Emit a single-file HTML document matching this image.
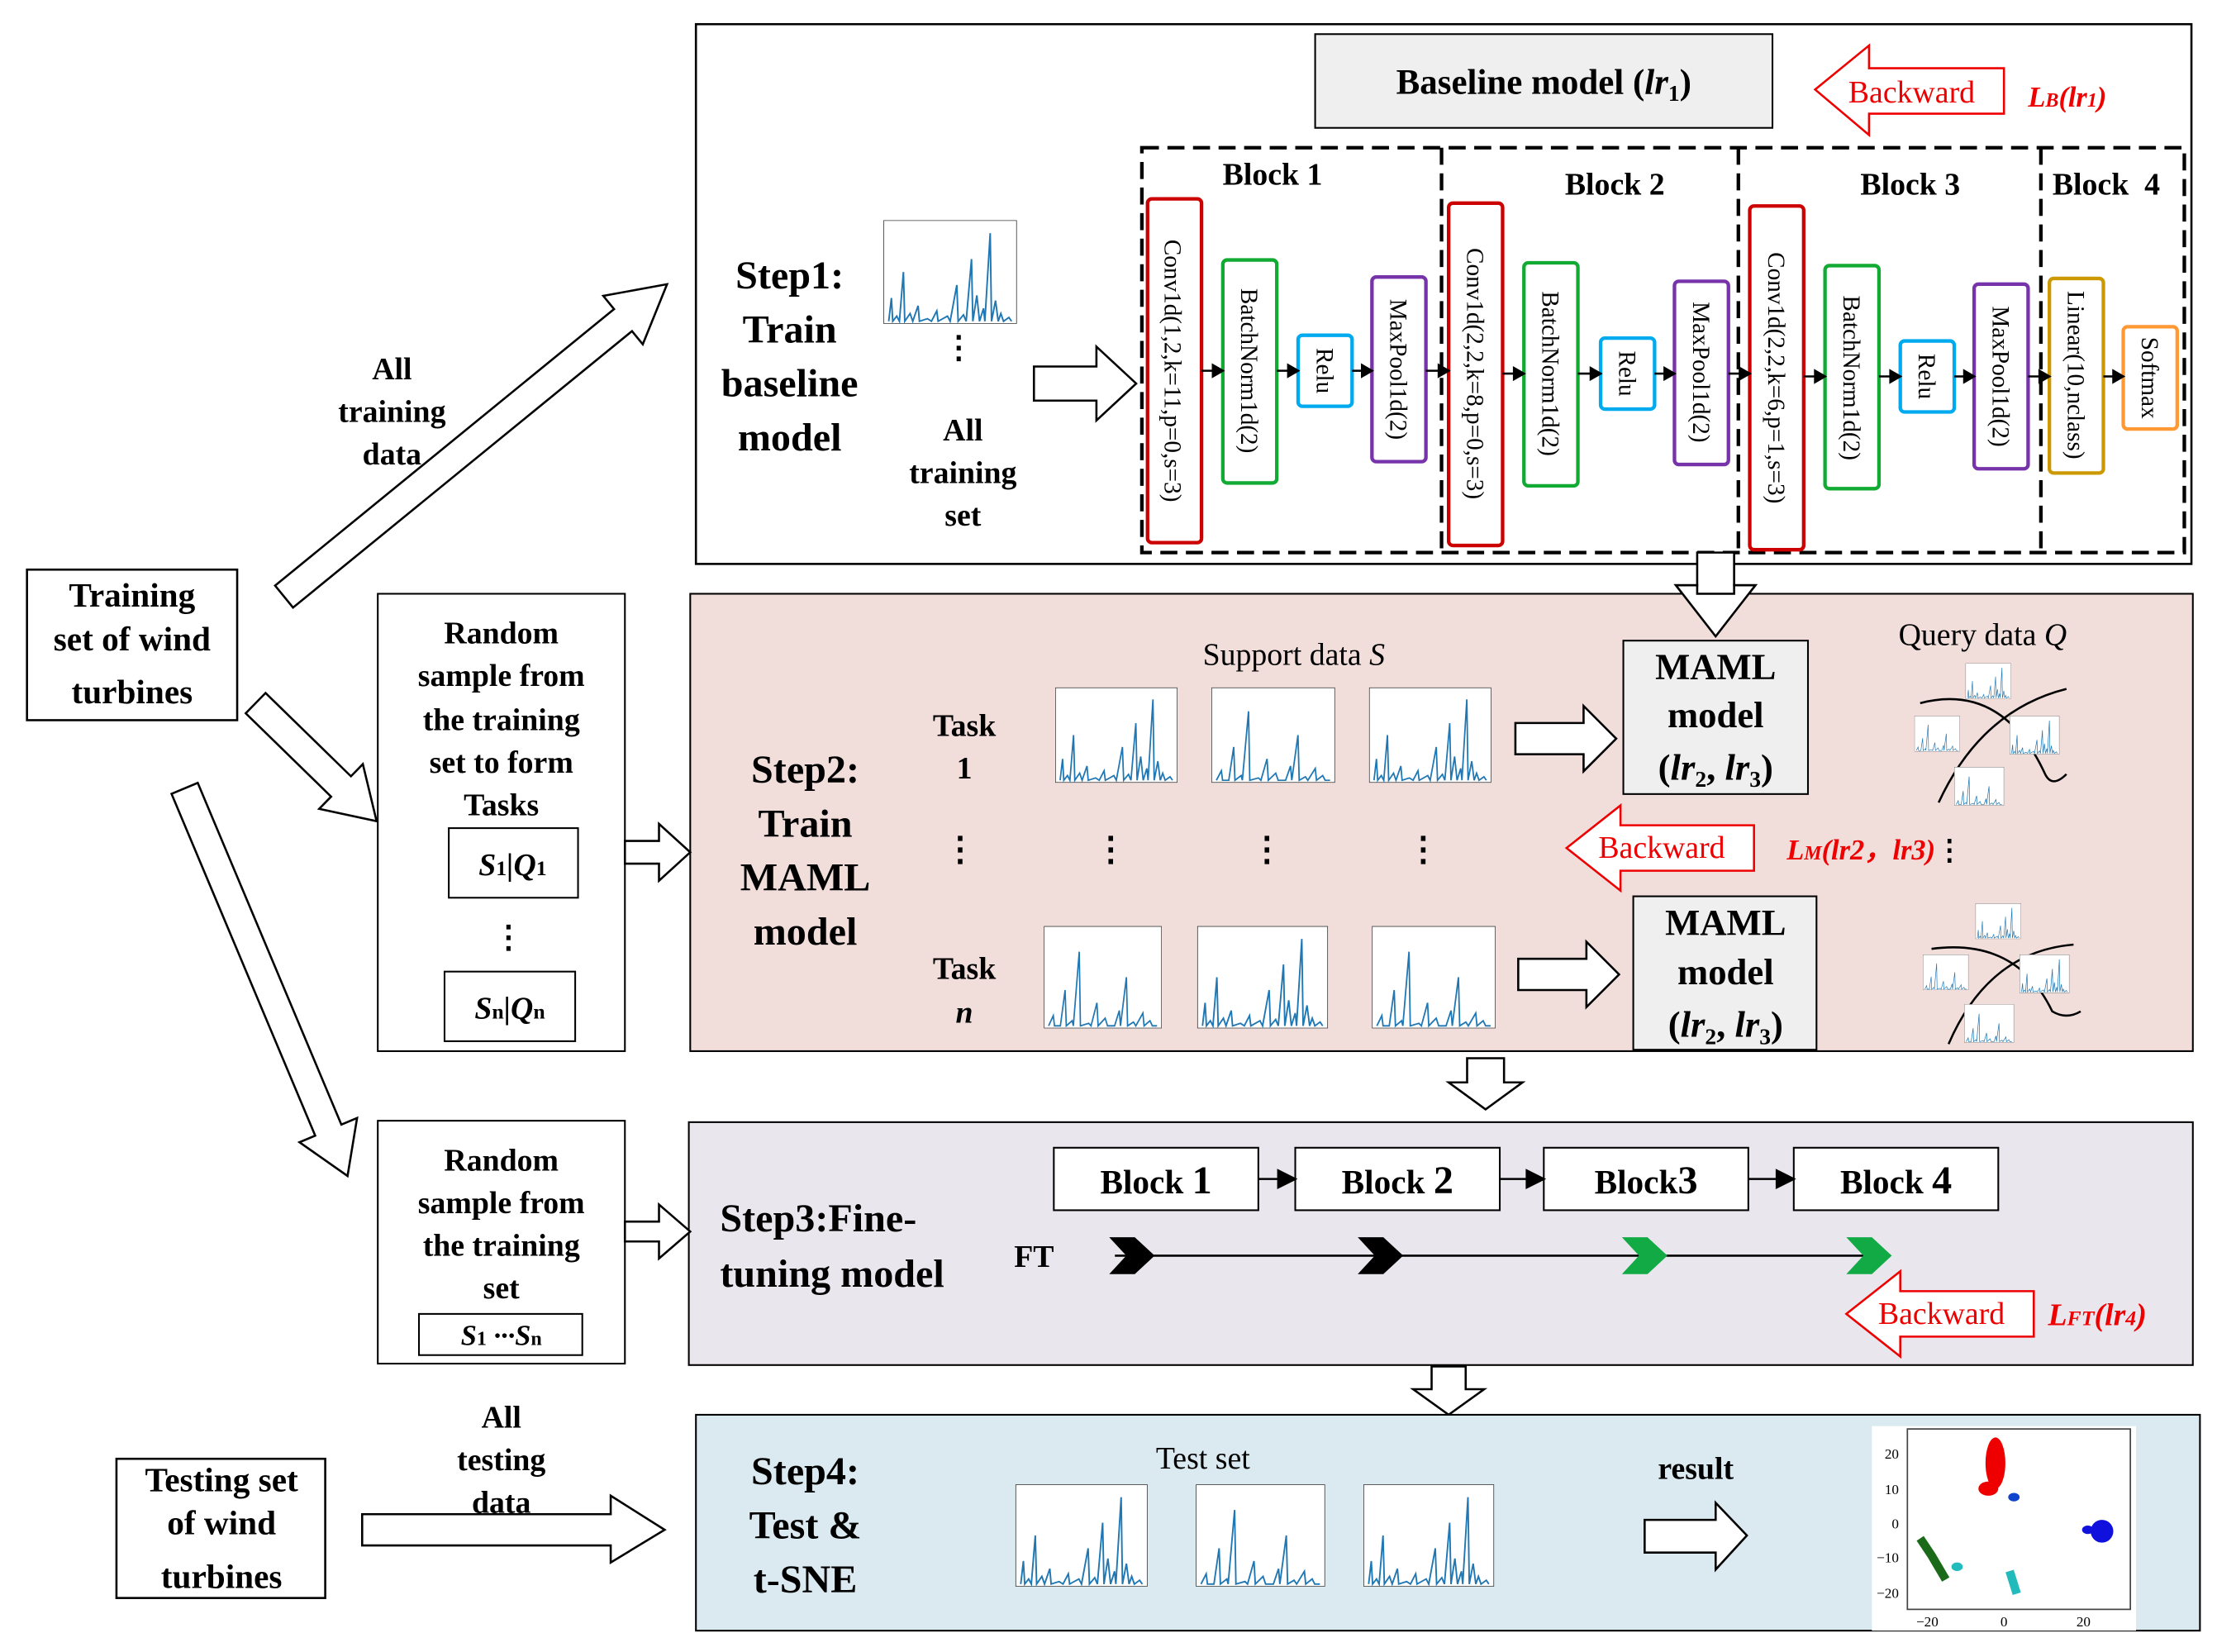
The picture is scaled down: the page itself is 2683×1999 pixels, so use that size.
<!DOCTYPE html>
<html><head><meta charset="utf-8">
<style>
html,body{margin:0;padding:0;background:#fff;}
svg{display:block;}
text{font-family:"Liberation Serif",serif;}
.b{font-weight:bold;}
</style></head>
<body>
<svg width="2683" height="1999" viewBox="0 0 1561 1163" xmlns="http://www.w3.org/2000/svg">
<defs>
<symbol id="ch" viewBox="0 0 100 80" preserveAspectRatio="none">
<rect x="0" y="0" width="100" height="80" fill="#fff" stroke="#333" stroke-width="1"/>
<polyline fill="none" stroke="#1f77b4" stroke-width="1.2" points="4,78 6,60 7,78 10,74 12,78 15,40 16,78 20,72 22,78 26,66 27,78 33,76 36,78 40,70 41,78 48,74 50,78 55,50 56,78 60,73 62,78 66,30 67,78 70,58 72,78 75,68 76,78 80,10 81,78 84,62 86,78 88,72 90,78 94,75 96,78"/>
</symbol>
<symbol id="ch2" viewBox="0 0 100 80" preserveAspectRatio="none">
<rect x="0" y="0" width="100" height="80" fill="#fff" stroke="#333" stroke-width="1"/>
<polyline fill="none" stroke="#1f77b4" stroke-width="1.2" points="4,78 8,70 9,78 14,78 18,50 19,78 24,74 25,78 30,20 31,78 38,76 40,78 45,60 46,78 52,72 54,78 60,78 64,66 65,78 70,40 71,78 76,75 78,78 84,68 85,78 90,74 92,78 96,78"/>
</symbol>
</defs>

<!-- ===== Step1 ===== -->
<rect x="490" y="17" width="1053" height="380" fill="#fff" stroke="#000" stroke-width="1.5"/>
<rect x="926" y="24" width="322" height="66" fill="#efefef" stroke="#000" stroke-width="1.2"/>
<text x="1087" y="66" font-size="25" text-anchor="middle" class="b">Baseline model (<tspan font-style="italic">lr</tspan><tspan font-size="16" dy="5">1</tspan><tspan dy="-5">)</tspan></text>
<polygon points="1278,63 1316,32 1316,48 1411,48 1411,80 1316,80 1316,95" fill="#fff" stroke="#e00" stroke-width="1.5"/>
<text x="1346" y="72" font-size="22" fill="#e00" text-anchor="middle" font-family="Liberation Sans">Backward</text>
<text x="1428" y="75" font-size="20" fill="#e00" class="b" font-style="italic">L<tspan font-size="14">B</tspan>(lr<tspan font-size="14">1</tspan>)</text>

<rect x="804" y="104" width="734" height="285" fill="none" stroke="#000" stroke-width="2.5" stroke-dasharray="12,6"/>
<line x1="1015" y1="104" x2="1015" y2="389" stroke="#000" stroke-width="2.5" stroke-dasharray="12,6"/>
<line x1="1224" y1="104" x2="1224" y2="389" stroke="#000" stroke-width="2.5" stroke-dasharray="12,6"/>
<line x1="1437" y1="104" x2="1437" y2="389" stroke="#000" stroke-width="2.5" stroke-dasharray="12,6"/>
<text x="896" y="130" font-size="22" text-anchor="middle" class="b">Block 1</text>
<text x="1137" y="137" font-size="22" text-anchor="middle" class="b">Block 2</text>
<text x="1345" y="137" font-size="22" text-anchor="middle" class="b">Block 3</text>
<text x="1483" y="137" font-size="22" text-anchor="middle" class="b">Block &#160;4</text>

<g fill="#fff" stroke-width="2.5">
<rect x="808" y="140" width="38" height="242" rx="3" stroke="#c00"/>
<rect x="861" y="183" width="38" height="157" rx="3" stroke="#1a3"/>
<rect x="914" y="236" width="38" height="50" rx="3" stroke="#0ae"/>
<rect x="966" y="195" width="38" height="130" rx="3" stroke="#73a"/>
<rect x="1020" y="143" width="38" height="241" rx="3" stroke="#c00"/>
<rect x="1073" y="185" width="38" height="157" rx="3" stroke="#1a3"/>
<rect x="1127" y="238" width="38" height="50" rx="3" stroke="#0ae"/>
<rect x="1179" y="198" width="38" height="129" rx="3" stroke="#73a"/>
<rect x="1232" y="145" width="38" height="242" rx="3" stroke="#c00"/>
<rect x="1285" y="187" width="38" height="157" rx="3" stroke="#1a3"/>
<rect x="1338" y="240" width="38" height="50" rx="3" stroke="#0ae"/>
<rect x="1390" y="200" width="38" height="130" rx="3" stroke="#73a"/>
<rect x="1443" y="196" width="38" height="137" rx="3" stroke="#c90"/>
<rect x="1495" y="230" width="38" height="72" rx="3" stroke="#f93"/>
</g>
<g font-size="17">
<text transform="translate(820,261) rotate(90)" text-anchor="middle">Conv1d(1,2,k=11,p=0,s=3)</text>
<text transform="translate(874,261) rotate(90)" text-anchor="middle">BatchNorm1d(2)</text>
<text transform="translate(927,261) rotate(90)" text-anchor="middle">Relu</text>
<text transform="translate(979,260) rotate(90)" text-anchor="middle">MaxPool1d(2)</text>
<text transform="translate(1033,263) rotate(90)" text-anchor="middle">Conv1d(2,2,k=8,p=0,s=3)</text>
<text transform="translate(1086,263) rotate(90)" text-anchor="middle">BatchNorm1d(2)</text>
<text transform="translate(1140,263) rotate(90)" text-anchor="middle">Relu</text>
<text transform="translate(1192,262) rotate(90)" text-anchor="middle">MaxPool1d(2)</text>
<text transform="translate(1245,266) rotate(90)" text-anchor="middle">Conv1d(2,2,k=6,p=1,s=3)</text>
<text transform="translate(1298,266) rotate(90)" text-anchor="middle">BatchNorm1d(2)</text>
<text transform="translate(1351,265) rotate(90)" text-anchor="middle">Relu</text>
<text transform="translate(1403,265) rotate(90)" text-anchor="middle">MaxPool1d(2)</text>
<text transform="translate(1456,264) rotate(90)" text-anchor="middle">Linear(10,nclass)</text>
<text transform="translate(1508,266) rotate(90)" text-anchor="middle">Softmax</text>
</g>
<g stroke="#000" stroke-width="1.5" fill="#000">
<line x1="846" y1="261" x2="856" y2="261"/><polygon points="861,261 854,257 854,265"/>
<line x1="899" y1="261" x2="909" y2="261"/><polygon points="914,261 907,257 907,265"/>
<line x1="952" y1="261" x2="961" y2="261"/><polygon points="966,261 959,257 959,265"/>
<line x1="1004" y1="261" x2="1015" y2="261"/><polygon points="1020,261 1013,257 1013,265"/>
<line x1="1058" y1="263" x2="1068" y2="263"/><polygon points="1073,263 1066,259 1066,267"/>
<line x1="1111" y1="263" x2="1122" y2="263"/><polygon points="1127,263 1120,259 1120,267"/>
<line x1="1165" y1="263" x2="1174" y2="263"/><polygon points="1179,263 1172,259 1172,267"/>
<line x1="1217" y1="263" x2="1227" y2="263"/><polygon points="1232,263 1225,259 1225,267"/>
<line x1="1270" y1="265" x2="1280" y2="265"/><polygon points="1285,265 1278,261 1278,269"/>
<line x1="1323" y1="265" x2="1333" y2="265"/><polygon points="1338,265 1331,261 1331,269"/>
<line x1="1376" y1="265" x2="1385" y2="265"/><polygon points="1390,265 1383,261 1383,269"/>
<line x1="1428" y1="265" x2="1438" y2="265"/><polygon points="1443,265 1436,261 1436,269"/>
<line x1="1481" y1="265" x2="1490" y2="265"/><polygon points="1495,265 1488,261 1488,269"/>
</g>

<g font-size="28" class="b" text-anchor="middle">
<text x="556" y="203">Step1:</text>
<text x="556" y="241">Train</text>
<text x="556" y="279">baseline</text>
<text x="556" y="317">model</text>
</g>
<use href="#ch" x="622" y="155" width="94" height="73"/>
<text x="675" y="252" font-size="22" text-anchor="middle" class="b">&#8942;</text>
<g font-size="22" class="b" text-anchor="middle">
<text x="678" y="310">All</text><text x="678" y="340">training</text><text x="678" y="370">set</text>
</g>
<polygon points="728,258 772,258 772,244 800,270 772,296 772,282 728,282" fill="#fff" stroke="#000" stroke-width="1.5"/>

<!-- down arrow step1->maml -->
<polygon points="1195,389 1221,389 1221,412 1236,412 1208,448 1180,412 1195,412" fill="#fff" stroke="#000" stroke-width="1.5"/>

<!-- ===== Step2 ===== -->
<rect x="486" y="418" width="1058" height="322" fill="#f1dedb" stroke="#000" stroke-width="1.2"/>
<polygon points="1195,418 1221,418 1221,412 1236,412 1208,448 1180,412 1195,412" fill="#fff" stroke="#000" stroke-width="1.5"/>
<g font-size="28" class="b" text-anchor="middle">
<text x="567" y="551">Step2:</text><text x="567" y="589">Train</text><text x="567" y="627">MAML</text><text x="567" y="665">model</text>
</g>
<g font-size="22" class="b" text-anchor="middle">
<text x="679" y="518">Task</text><text x="679" y="548">1</text>
<text x="679" y="689">Task</text><text x="679" y="720" font-style="italic">n</text>
</g>
<text x="911" y="468" font-size="22" text-anchor="middle">Support data <tspan font-style="italic">S</tspan></text>
<use href="#ch" x="743" y="484" width="86" height="67"/>
<use href="#ch2" x="853" y="484" width="87" height="67"/>
<use href="#ch" x="964" y="484" width="86" height="67"/>
<use href="#ch2" x="735" y="652" width="83" height="72"/>
<use href="#ch" x="843" y="652" width="92" height="72"/>
<use href="#ch2" x="966" y="652" width="87" height="72"/>
<g font-size="24" class="b" text-anchor="middle">
<text x="676" y="606">&#8942;</text><text x="782" y="606">&#8942;</text><text x="892" y="606">&#8942;</text><text x="1002" y="606">&#8942;</text>
</g>
<polygon points="1067,509 1115,509 1115,497 1138,520 1115,543 1115,531 1067,531" fill="#fff" stroke="#000" stroke-width="1.5"/>
<polygon points="1069,675 1117,675 1117,663 1140,686 1117,709 1117,697 1069,697" fill="#fff" stroke="#000" stroke-width="1.5"/>
<rect x="1143" y="451" width="130" height="108" fill="#efefef" stroke="#000" stroke-width="1.2"/>
<rect x="1150" y="631" width="129" height="108" fill="#efefef" stroke="#000" stroke-width="1.2"/>
<g font-size="26" class="b" text-anchor="middle">
<text x="1208" y="478">MAML</text><text x="1208" y="512">model</text>
<text x="1208" y="549">(<tspan font-style="italic">lr</tspan><tspan font-size="16" dy="5">2</tspan><tspan dy="-5">, </tspan><tspan font-style="italic">lr</tspan><tspan font-size="16" dy="5">3</tspan><tspan dy="-5">)</tspan></text>
<text x="1215" y="658">MAML</text><text x="1215" y="693">model</text>
<text x="1215" y="730">(<tspan font-style="italic">lr</tspan><tspan font-size="16" dy="5">2</tspan><tspan dy="-5">, </tspan><tspan font-style="italic">lr</tspan><tspan font-size="16" dy="5">3</tspan><tspan dy="-5">)</tspan></text>
</g>
<polygon points="1103,597 1141,567 1141,581 1235,581 1235,613 1141,613 1141,627" fill="#fff" stroke="#e00" stroke-width="1.5"/>
<text x="1170" y="604" font-size="22" fill="#e00" text-anchor="middle" font-family="Liberation Sans">Backward</text>
<text x="1258" y="605" font-size="20" fill="#e00" class="b" font-style="italic">L<tspan font-size="14">M</tspan>(lr2，lr3)<tspan fill="#000" font-style="normal">&#8942;</tspan></text>
<text x="1396" y="454" font-size="22" text-anchor="middle">Query data <tspan font-style="italic">Q</tspan></text>
<g fill="none" stroke="#000" stroke-width="1.5">
<path d="M1352,495 Q1410,480 1440,545 Q1445,555 1455,545"/>
<path d="M1365,565 Q1395,500 1455,485"/>
<path d="M1360,668 Q1420,660 1445,712 Q1455,718 1465,712"/>
<path d="M1372,735 Q1400,670 1460,665"/>
</g>
<use href="#ch" x="1384" y="467" width="32" height="25"/>
<use href="#ch2" x="1348" y="504" width="32" height="25"/>
<use href="#ch" x="1415" y="504" width="35" height="27"/>
<use href="#ch2" x="1376" y="540" width="35" height="27"/>
<use href="#ch" x="1391" y="636" width="32" height="25"/>
<use href="#ch2" x="1354" y="672" width="32" height="25"/>
<use href="#ch" x="1422" y="672" width="35" height="27"/>
<use href="#ch2" x="1383" y="707" width="35" height="27"/>

<!-- down arrows -->
<polygon points="1033,745 1059,745 1059,762 1072,762 1046,781 1020,762 1033,762" fill="#fff" stroke="#000" stroke-width="1.5"/>
<polygon points="1008,962 1032,962 1032,978 1045,978 1020,996 995,978 1008,978" fill="#fff" stroke="#000" stroke-width="1.5"/>

<!-- ===== Step3 ===== -->
<rect x="485" y="790" width="1059" height="171" fill="#eae6ee" stroke="#000" stroke-width="1.2"/>
<g fill="#fff" stroke="#000" stroke-width="1.2">
<rect x="742" y="808" width="144" height="44"/><rect x="912" y="808" width="144" height="44"/>
<rect x="1087" y="808" width="144" height="44"/><rect x="1263" y="808" width="144" height="44"/>
</g>
<g font-size="24" class="b" text-anchor="middle" font-family="Liberation Sans">
<text x="814" y="840" font-family="Liberation Sans">Block <tspan font-size="28">1</tspan></text>
<text x="984" y="840" font-family="Liberation Sans">Block <tspan font-size="28">2</tspan></text>
<text x="1159" y="840" font-family="Liberation Sans">Block<tspan font-size="28">3</tspan></text>
<text x="1335" y="840" font-family="Liberation Sans">Block <tspan font-size="28">4</tspan></text>
</g>
<g stroke="#000" stroke-width="1.5" fill="#000">
<line x1="886" y1="830" x2="902" y2="830"/><polygon points="912,830 900,824 900,836"/>
<line x1="1056" y1="830" x2="1077" y2="830"/><polygon points="1087,830 1075,824 1075,836"/>
<line x1="1231" y1="830" x2="1253" y2="830"/><polygon points="1263,830 1251,824 1251,836"/>
</g>
<g font-size="28" class="b">
<text x="507" y="867">Step3:Fine-</text><text x="507" y="906">tuning model</text>
</g>
<text x="714" y="892" font-size="22" class="b">FT</text>
<line x1="785" y1="884" x2="1320" y2="884" stroke="#000" stroke-width="1.5"/>
<g>
<polygon points="781,871 799,871 813,884 799,897 781,897 793,884" fill="#000"/>
<polygon points="956,871 974,871 988,884 974,897 956,897 968,884" fill="#000"/>
<polygon points="1142,871 1160,871 1174,884 1160,897 1142,897 1154,884" fill="#1a4"/>
<polygon points="1300,871 1318,871 1332,884 1318,897 1300,897 1312,884" fill="#1a4"/>
</g>
<polygon points="1300,925 1338,895 1338,909 1432,909 1432,941 1338,941 1338,955" fill="#fff" stroke="#e00" stroke-width="1.5"/>
<text x="1367" y="932" font-size="22" fill="#e00" text-anchor="middle" font-family="Liberation Sans">Backward</text>
<text x="1442" y="933" font-size="22" fill="#e00" class="b" font-style="italic">L<tspan font-size="15">FT</tspan>(lr<tspan font-size="15">4</tspan>)</text>

<!-- ===== Step4 ===== -->
<rect x="490" y="996" width="1059" height="152" fill="#daeaf0" stroke="#000" stroke-width="1.2"/>
<g font-size="28" class="b" text-anchor="middle">
<text x="567" y="1045">Step4:</text><text x="567" y="1083">Test &amp;</text><text x="567" y="1121">t-SNE</text>
</g>
<text x="847" y="1034" font-size="22" text-anchor="middle">Test set</text>
<use href="#ch" x="715" y="1045" width="93" height="72"/>
<use href="#ch2" x="842" y="1045" width="91" height="72"/>
<use href="#ch" x="960" y="1045" width="92" height="72"/>
<text x="1194" y="1041" font-size="22" class="b" text-anchor="middle">result</text>
<polygon points="1158,1070 1208,1070 1208,1058 1230,1081 1208,1105 1208,1093 1158,1093" fill="#fff" stroke="#000" stroke-width="1.5"/>
<rect x="1318" y="1004" width="186" height="144" fill="#fff"/>
<rect x="1343" y="1006" width="157" height="127" fill="#fff" stroke="#444" stroke-width="1"/>
<g font-size="10" font-family="Liberation Sans" text-anchor="end">
<text x="1337" y="1027" font-family="Liberation Sans">20</text><text x="1337" y="1052" font-family="Liberation Sans">10</text><text x="1337" y="1076" font-family="Liberation Sans">0</text><text x="1337" y="1100" font-family="Liberation Sans">−10</text><text x="1337" y="1125" font-family="Liberation Sans">−20</text>
</g>
<g font-size="10" font-family="Liberation Sans" text-anchor="middle">
<text x="1357" y="1145" font-family="Liberation Sans">−20</text><text x="1411" y="1145" font-family="Liberation Sans">0</text><text x="1467" y="1145" font-family="Liberation Sans">20</text>
</g>
<g>
<ellipse cx="1405" cy="1030" rx="7" ry="18" fill="#e00"/>
<ellipse cx="1400" cy="1048" rx="7" ry="5" fill="#e00"/>
<ellipse cx="1418" cy="1054" rx="4" ry="3" fill="#14c"/>
<ellipse cx="1480" cy="1078" rx="8" ry="8" fill="#11d"/>
<ellipse cx="1470" cy="1077" rx="4" ry="3" fill="#11d"/>
<path d="M1352,1083 L1360,1095 L1370,1112" stroke="#1a6a1a" stroke-width="6" fill="none"/>
<ellipse cx="1378" cy="1103" rx="4" ry="3" fill="#2bb"/>
<path d="M1415,1106 L1420,1122" stroke="#2bb" stroke-width="6" fill="none"/>
</g>

<!-- ===== Left side ===== -->
<rect x="19" y="401" width="148" height="106" fill="#fff" stroke="#000" stroke-width="1.5"/>
<g font-size="24" class="b" text-anchor="middle">
<text x="93" y="427">Training</text><text x="93" y="458">set of wind</text><text x="93" y="495">turbines</text>
</g>
<g fill="#fff" stroke="#000" stroke-width="1.5">
<polygon transform="translate(200,420) rotate(-39.2)" points="0,-10 308,-10 308,-22 348,0 308,22 308,10 0,10"/>
<polygon transform="translate(180,495) rotate(44.3)" points="0,-10 84,-10 84,-22 119,0 84,22 84,10 0,10"/>
<polygon transform="translate(130,555) rotate(67.2)" points="0,-10 261,-10 261,-22 296,0 261,22 261,10 0,10"/>
</g>
<g font-size="22" class="b" text-anchor="middle">
<text x="276" y="267">All</text><text x="276" y="297">training</text><text x="276" y="327">data</text>
</g>

<rect x="266" y="418" width="174" height="322" fill="#fff" stroke="#000" stroke-width="1.2"/>
<g font-size="22" class="b" text-anchor="middle">
<text x="353" y="453">Random</text><text x="353" y="483">sample from</text><text x="353" y="514">the training</text><text x="353" y="544">set to form</text><text x="353" y="574">Tasks</text>
</g>
<rect x="316" y="583" width="91" height="49" fill="#fff" stroke="#000" stroke-width="1.2"/>
<text x="361" y="616" font-size="22" class="b" font-style="italic" text-anchor="middle">S<tspan font-size="15" font-style="normal">1</tspan>|Q<tspan font-size="15" font-style="normal">1</tspan></text>
<text x="358" y="667" font-size="22" class="b" text-anchor="middle">&#8942;</text>
<rect x="313" y="684" width="92" height="49" fill="#fff" stroke="#000" stroke-width="1.2"/>
<text x="359" y="717" font-size="22" class="b" font-style="italic" text-anchor="middle">S<tspan font-size="15" font-style="normal">n</tspan>|Q<tspan font-size="15" font-style="normal">n</tspan></text>
<polygon points="440,592 464,592 464,580 486,600 464,620 464,608 440,608" fill="#fff" stroke="#000" stroke-width="1.5"/>

<rect x="266" y="789" width="174" height="171" fill="#fff" stroke="#000" stroke-width="1.2"/>
<g font-size="22" class="b" text-anchor="middle">
<text x="353" y="824">Random</text><text x="353" y="854">sample from</text><text x="353" y="884">the training</text><text x="353" y="914">set</text>
</g>
<rect x="295" y="925" width="115" height="29" fill="#fff" stroke="#000" stroke-width="1.2"/>
<text x="353" y="947" font-size="20" class="b" font-style="italic" text-anchor="middle">S<tspan font-size="14" font-style="normal">1</tspan> ···S<tspan font-size="14" font-style="normal">n</tspan></text>
<polygon points="440,860 464,860 464,848 486,867 464,886 464,874 440,874" fill="#fff" stroke="#000" stroke-width="1.5"/>

<rect x="82" y="1027" width="147" height="98" fill="#fff" stroke="#000" stroke-width="1.5"/>
<g font-size="24" class="b" text-anchor="middle">
<text x="156" y="1050">Testing set</text><text x="156" y="1080">of wind</text><text x="156" y="1118">turbines</text>
</g>
<polygon points="255,1066 430,1066 430,1053 468,1077 430,1100 430,1088 255,1088" fill="#fff" stroke="#000" stroke-width="1.5"/>
<g font-size="22" class="b" text-anchor="middle">
<text x="353" y="1005">All</text><text x="353" y="1035">testing</text><text x="353" y="1065">data</text>
</g>
</svg>
</body></html>
